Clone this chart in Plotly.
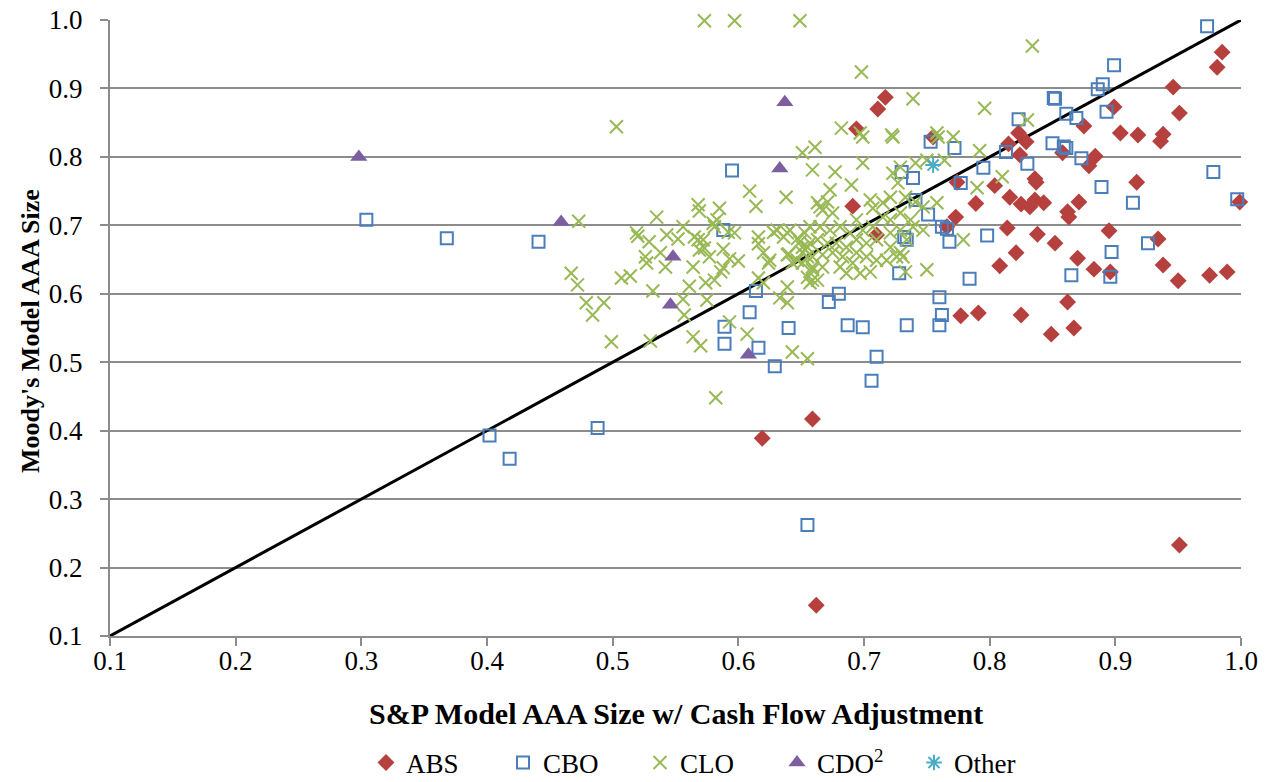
import plotly.graph_objects as go

# ---------------- data ----------------
abs_x = [0.717, 0.711, 0.694, 0.985, 0.981, 0.946, 0.951, 0.899, 0.875, 0.904, 0.918, 0.938,
         0.936, 0.823, 0.829, 0.815, 0.824, 0.858, 0.884, 0.879, 0.755, 0.836, 0.837, 0.917,
         0.804, 0.774, 0.816, 0.825, 0.832, 0.836, 0.843, 0.871, 0.789, 0.691, 0.999, 0.862,
         0.863, 0.773, 0.766, 0.710, 0.814, 0.838, 0.895, 0.852, 0.934, 0.821, 0.870, 0.808,
         0.883, 0.896, 0.938, 0.950, 0.975, 0.989, 0.862, 0.777, 0.791, 0.825, 0.867, 0.849,
         0.659, 0.619, 0.951, 0.662]
abs_y = [0.887, 0.870, 0.841, 0.953, 0.931, 0.902, 0.864, 0.873, 0.845, 0.835, 0.832, 0.833,
         0.823, 0.835, 0.822, 0.819, 0.803, 0.806, 0.801, 0.787, 0.829, 0.768, 0.763, 0.763,
         0.758, 0.763, 0.741, 0.731, 0.727, 0.737, 0.733, 0.734, 0.732, 0.728, 0.734, 0.720,
         0.712, 0.712, 0.698, 0.686, 0.696, 0.687, 0.692, 0.674, 0.680, 0.660, 0.652, 0.641,
         0.636, 0.632, 0.642, 0.619, 0.627, 0.632, 0.588, 0.568, 0.572, 0.569, 0.550, 0.541,
         0.417, 0.389, 0.233, 0.145]

cbo_x = [0.973, 0.899, 0.890, 0.886, 0.851, 0.852, 0.893, 0.861, 0.869, 0.823, 0.850, 0.859,
         0.861, 0.873, 0.813, 0.830, 0.795, 0.772, 0.753, 0.978, 0.889, 0.730, 0.739, 0.777,
         0.914, 0.997, 0.741, 0.751, 0.762, 0.766, 0.768, 0.798, 0.926, 0.897, 0.734, 0.732,
         0.728, 0.784, 0.865, 0.896, 0.680, 0.672, 0.760, 0.762, 0.760, 0.687, 0.699, 0.734,
         0.710, 0.706, 0.655, 0.629, 0.616, 0.640, 0.589, 0.589, 0.609, 0.614, 0.588, 0.595,
         0.368, 0.441, 0.304, 0.402, 0.418, 0.488]
cbo_y = [0.991, 0.934, 0.906, 0.899, 0.886, 0.885, 0.866, 0.863, 0.857, 0.855, 0.820, 0.815,
         0.813, 0.798, 0.807, 0.790, 0.784, 0.813, 0.822, 0.778, 0.756, 0.778, 0.769, 0.762,
         0.733, 0.738, 0.737, 0.716, 0.698, 0.695, 0.676, 0.685, 0.674, 0.661, 0.679, 0.683,
         0.630, 0.622, 0.627, 0.625, 0.600, 0.588, 0.595, 0.569, 0.554, 0.554, 0.551, 0.554,
         0.508, 0.473, 0.262, 0.494, 0.521, 0.550, 0.527, 0.552, 0.573, 0.604, 0.693, 0.780,
         0.681, 0.676, 0.708, 0.393, 0.359, 0.404]

clo_x = [0.573, 0.597, 0.649, 0.503, 0.651, 0.661, 0.659, 0.609, 0.614, 0.638, 0.663, 0.473,
         0.535, 0.568, 0.569, 0.585, 0.519, 0.520, 0.529, 0.543, 0.556, 0.552, 0.565, 0.568,
         0.583, 0.581, 0.597, 0.573, 0.577, 0.588, 0.593, 0.600, 0.538, 0.527, 0.526, 0.542,
         0.564, 0.586, 0.581, 0.574, 0.561, 0.514, 0.507, 0.467, 0.472, 0.532, 0.556, 0.575,
         0.479, 0.493, 0.484, 0.557, 0.593, 0.616, 0.620, 0.624, 0.631, 0.639, 0.640, 0.649,
         0.653, 0.639, 0.633, 0.639, 0.616, 0.651, 0.659, 0.659, 0.499, 0.530, 0.564, 0.570,
         0.607, 0.643, 0.655, 0.582, 0.572, 0.580, 0.592, 0.569, 0.588, 0.616, 0.625, 0.620,
         0.628, 0.636, 0.641, 0.647, 0.651, 0.639, 0.647, 0.655, 0.655,
         0.677, 0.699, 0.690, 0.723, 0.729, 0.741, 0.750, 0.764, 0.771, 0.759, 0.673, 0.671,
         0.665, 0.675, 0.667, 0.705, 0.707, 0.715, 0.723, 0.727, 0.733, 0.741, 0.747, 0.758,
         0.721, 0.715, 0.721, 0.729, 0.737, 0.694, 0.699, 0.707, 0.721, 0.729, 0.739, 0.747,
         0.734, 0.729, 0.721, 0.710, 0.702, 0.694, 0.689, 0.681, 0.673, 0.665, 0.657, 0.657,
         0.663, 0.671, 0.678, 0.686, 0.694, 0.702, 0.710, 0.718, 0.726, 0.651, 0.659, 0.667,
         0.675, 0.683, 0.691, 0.697, 0.705, 0.667, 0.659, 0.643, 0.655, 0.663, 0.657, 0.681,
         0.686, 0.733, 0.750, 0.731, 0.699,
         0.834, 0.698, 0.739, 0.796, 0.682, 0.830, 0.792, 0.810, 0.790, 0.779, 0.758, 0.697,
         0.722]
clo_y = [0.999, 0.999, 0.999, 0.844, 0.806, 0.814, 0.781, 0.750, 0.728, 0.741, 0.733, 0.706,
         0.712, 0.730, 0.721, 0.725, 0.689, 0.684, 0.676, 0.686, 0.698, 0.680, 0.683, 0.679,
         0.708, 0.698, 0.689, 0.667, 0.654, 0.665, 0.651, 0.648, 0.660, 0.645, 0.654, 0.639,
         0.639, 0.632, 0.620, 0.616, 0.611, 0.626, 0.623, 0.630, 0.613, 0.604, 0.592, 0.591,
         0.587, 0.587, 0.569, 0.569, 0.559, 0.683, 0.660, 0.645, 0.693, 0.689, 0.658, 0.676,
         0.689, 0.610, 0.594, 0.587, 0.623, 0.645, 0.639, 0.620, 0.530, 0.531, 0.537, 0.524,
         0.541, 0.515, 0.505, 0.448, 0.679, 0.703, 0.690, 0.664, 0.638, 0.673, 0.649, 0.616,
         0.690, 0.683, 0.693, 0.681, 0.668, 0.657, 0.649, 0.668, 0.654,
         0.778, 0.791, 0.759, 0.829, 0.785, 0.791, 0.795, 0.795, 0.829, 0.829, 0.752, 0.734,
         0.727, 0.718, 0.722, 0.737, 0.725, 0.733, 0.776, 0.762, 0.741, 0.734, 0.727, 0.733,
         0.741, 0.712, 0.708, 0.718, 0.708, 0.708, 0.693, 0.698, 0.689, 0.693, 0.698, 0.693,
         0.679, 0.660, 0.668, 0.679, 0.674, 0.679, 0.689, 0.698, 0.693, 0.698, 0.698, 0.674,
         0.679, 0.674, 0.674, 0.668, 0.660, 0.654, 0.649, 0.649, 0.654, 0.660, 0.654, 0.657,
         0.660, 0.654, 0.645, 0.630, 0.632, 0.639, 0.635, 0.645, 0.624, 0.620, 0.616, 0.639,
         0.630, 0.632, 0.635, 0.654, 0.829,
         0.962, 0.924, 0.885, 0.871, 0.842, 0.854, 0.809, 0.771, 0.755, 0.679, 0.835, 0.835,
         0.832]

cdo2_x = [0.298, 0.637, 0.633, 0.459, 0.548, 0.546, 0.608]
cdo2_y = [0.800, 0.880, 0.783, 0.705, 0.654, 0.584, 0.511]

other_x = [0.755]
other_y = [0.788]

diag_x = [0.1, 1.0]
diag_y = [0.1, 1.0]

tick_vals = [0.1, 0.2, 0.3, 0.4, 0.5, 0.6, 0.7, 0.8, 0.9, 1.0]
tick_text = ["0.1", "0.2", "0.3", "0.4", "0.5", "0.6", "0.7", "0.8", "0.9", "1.0"]

x_title = "S&P Model AAA Size w/ Cash Flow Adjustment"
y_title = "Moody's Model AAA Size"

# ---------------- figure ----------------
FONT = "'Liberation Serif', 'DejaVu Serif', serif"
GRID = "#8c8c8c"
W, H = 1271, 782
ML, MR, MT, MB = 110, 30, 20, 146

fig = go.Figure()

fig.add_trace(go.Scatter(
    x=diag_x, y=diag_y, mode="lines", line=dict(color="black", width=3),
    showlegend=False, hoverinfo="skip"))

fig.add_trace(go.Scatter(
    x=abs_x, y=abs_y, mode="markers", name="ABS", cliponaxis=False,
    marker=dict(symbol="diamond", size=13, color="#B5403D", line=dict(width=0))))

fig.add_trace(go.Scatter(
    x=cbo_x, y=cbo_y, mode="markers", name="CBO", cliponaxis=False,
    marker=dict(symbol="square-open", size=12, color="#4A7EBB", line=dict(width=2, color="#4A7EBB"))))

fig.add_trace(go.Scatter(
    x=clo_x, y=clo_y, mode="markers", name="CLO", cliponaxis=False,
    marker=dict(symbol="x-thin", size=13, color="#98B954", line=dict(width=2, color="#98B954"))))

fig.add_trace(go.Scatter(
    x=cdo2_x, y=cdo2_y, mode="markers", name="CDO<sup>2</sup>", cliponaxis=False,
    marker=dict(symbol="triangle-up", size=15, color="#7D5FA0", line=dict(width=0))))

fig.add_trace(go.Scatter(
    x=other_x, y=other_y, mode="markers", name="Other", cliponaxis=False,
    marker=dict(symbol="asterisk-open", size=13, color="#4BACC6", line=dict(width=2, color="#4BACC6"))))

plot_w = W - ML - MR
plot_h = H - MT - MB

fig.update_layout(
    width=W, height=H,
    margin=dict(l=ML, r=MR, t=MT, b=MB, autoexpand=False),
    paper_bgcolor="white", plot_bgcolor="white",
    font=dict(family=FONT, size=27, color="black"),
    showlegend=True,
    legend=dict(orientation="h", xanchor="left", yanchor="middle",
                x=(366 - ML) / plot_w, y=-(763 - (H - MB)) / plot_h,
                font=dict(family=FONT, size=27),
                entrywidth=92, entrywidthmode="pixels", itemwidth=30,
                bgcolor="rgba(0,0,0,0)"),
    annotations=[
        dict(text="<b>" + x_title + "</b>", xref="paper", yref="paper",
             x=(676 - ML) / plot_w, y=-(713 - (H - MB)) / plot_h,
             xanchor="center", yanchor="middle",
             showarrow=False, font=dict(family=FONT, size=30)),
        dict(text="<b>" + y_title + "</b>", xref="paper", yref="paper",
             x=-(ML - 30) / plot_w, y=(H - MB - 331) / plot_h,
             xanchor="center", yanchor="middle",
             textangle=-90, showarrow=False, font=dict(family=FONT, size=26)),
    ],
)

fig.update_xaxes(
    range=[0.1, 1.0], tickvals=tick_vals, ticktext=tick_text,
    showgrid=False, zeroline=False, automargin=False,
    showline=True, linecolor=GRID, linewidth=2,
    ticks="outside", ticklen=8, tickcolor=GRID, tickwidth=1.5,
    ticklabelstandoff=-8,
    tickfont=dict(family=FONT, size=27),
)
fig.update_yaxes(
    range=[0.1, 1.0], tickvals=tick_vals, ticktext=tick_text,
    showgrid=True, gridcolor=GRID, gridwidth=1.5, zeroline=False, automargin=False,
    showline=True, linecolor=GRID, linewidth=2,
    ticks="outside", ticklen=8, tickcolor=GRID, tickwidth=1.5,
    ticklabelstandoff=12,
    tickfont=dict(family=FONT, size=27),
)

fig.write_html("out.html", config={"displayModeBar": False},
               post_script="document.body.style.margin='0';")
